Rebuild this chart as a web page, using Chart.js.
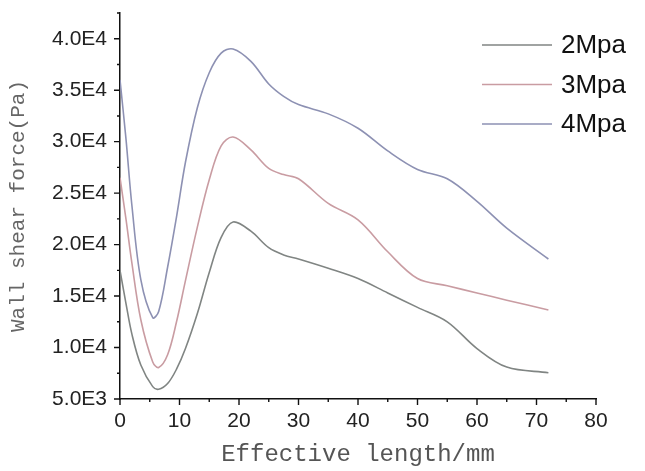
<!DOCTYPE html>
<html>
<head>
<meta charset="utf-8">
<script src="https://cdn.jsdelivr.net/npm/chart.js@4.4.0/dist/chart.umd.min.js"></script>
<style>
  html, body { margin: 0; padding: 0; background: #fff; }
  #wrap { width: 645px; height: 471px; position: relative; }
</style>
</head>
<body>
<div id="wrap"><canvas id="shear-chart"></canvas></div>
<script>
// effective length (mm) and wall shear force (Pa)
var lengths = [0, 1, 2, 3.5, 5.5, 6.5, 8, 9.5, 11, 13, 15, 17, 19, 22, 25, 27.5, 30, 35, 40, 45, 50, 55, 60, 65, 72];
var force2 = [17500, 14300, 11300, 8300, 6200, 5950, 6500, 7900, 9900, 13300, 17300, 20700, 22200, 21300, 19700, 19000, 18600, 17700, 16700, 15300, 13900, 12500, 9900, 8100, 7550];
var force3 = [26500, 22500, 18200, 12700, 8600, 8060, 9300, 12500, 16500, 21700, 26300, 29600, 30450, 29200, 27400, 26800, 26400, 24000, 22400, 19300, 16700, 16000, 15300, 14600, 13650];
var force4 = [36000, 30300, 23800, 16600, 12900, 13500, 17800, 22700, 28000, 33300, 36700, 38600, 39000, 37800, 35600, 34400, 33600, 32700, 31300, 29100, 27300, 26400, 24200, 21600, 18600];
var seriesNames = ["2Mpa", "3Mpa", "4Mpa"];
var seriesColors = ["#808583", "#c99ca2", "#8d91b3"];

function toPoints(ys) {
  return lengths.map(function (x, i) { return { x: x, y: ys[i] }; });
}

// short outward ticks: long ones at labelled values, short ones between
var axisTicks = {
  id: "axisTicks",
  afterDraw: function (chart) {
    var ctx = chart.ctx, sx = chart.scales.x, sy = chart.scales.y;
    ctx.save();
    ctx.strokeStyle = "#111";
    ctx.lineWidth = 1.4;
    ctx.beginPath();
    sx.ticks.forEach(function (t) {
      var px = sx.getPixelForValue(t.value);
      var len = t.value % 10 === 0 ? 6 : 3;
      ctx.moveTo(px, sx.top);
      ctx.lineTo(px, sx.top + len);
    });
    sy.ticks.forEach(function (t) {
      var py = sy.getPixelForValue(t.value);
      var len = t.value % 5000 === 0 ? 6 : 3;
      ctx.moveTo(sy.right, py);
      ctx.lineTo(sy.right - len, py);
    });
    ctx.stroke();
    ctx.restore();
  }
};

// legend in the upper right corner of the plot
var cornerLegend = {
  id: "cornerLegend",
  afterDraw: function (chart) {
    var ctx = chart.ctx;
    ctx.save();
    ctx.font = "26px 'Liberation Sans', Arial, sans-serif";
    ctx.textBaseline = "middle";
    chart.data.datasets.forEach(function (ds, i) {
      var y = 45 + i * 39.5;
      ctx.strokeStyle = ds.borderColor;
      ctx.lineWidth = 1.6;
      ctx.beginPath();
      ctx.moveTo(482, y);
      ctx.lineTo(552, y);
      ctx.stroke();
      ctx.fillStyle = "#111";
      ctx.fillText(ds.label, 561, y + 1);
    });
    ctx.restore();
  }
};

new Chart(document.getElementById("shear-chart"), {
  type: "line",
  data: {
    datasets: [
      { label: seriesNames[0], data: toPoints(force2), borderColor: seriesColors[0] },
      { label: seriesNames[1], data: toPoints(force3), borderColor: seriesColors[1] },
      { label: seriesNames[2], data: toPoints(force4), borderColor: seriesColors[2] },
    ],
  },
  options: {
    responsive: true,
    maintainAspectRatio: false,
    animation: false,
    layout: { padding: { top: 13, right: 49, bottom: 0, left: 0 } },
    elements: {
      line: { borderWidth: 1.6, tension: 0.35, fill: false },
      point: { radius: 0 },
    },
    plugins: { legend: { display: false }, tooltip: { enabled: false } },
    scales: {
      x: {
        type: "linear",
        min: 0,
        max: 80,
        afterFit: function (s) { s.height = 72; },
        border: { display: true, color: "#111", width: 1.5 },
        grid: { drawOnChartArea: false, drawTicks: false },
        ticks: {
          stepSize: 5,
          autoSkip: false,
          maxRotation: 0,
          padding: 10,
          color: "#222",
          font: { family: "'Liberation Sans', Arial, sans-serif", size: 21 },
          callback: function (v) { return v % 10 === 0 ? String(v) : ""; },
        },
        title: {
          display: true,
          text: "Effective length/mm",
          color: "#555",
          padding: { top: 0, bottom: 2 },
          font: { family: "'Liberation Mono', monospace", size: 24 },
        },
      },
      y: {
        min: 5000,
        max: 42500,
        afterFit: function (s) { s.width = 120; s.paddingTop = 0; },
        border: { display: true, color: "#111", width: 1.5 },
        grid: { drawOnChartArea: false, drawTicks: false },
        ticks: {
          stepSize: 2500,
          autoSkip: false,
          padding: 13,
          color: "#222",
          font: { family: "'Liberation Sans', Arial, sans-serif", size: 21 },
          callback: function (v) {
            if (v % 5000 !== 0) return "";
            return v.toExponential(1).toUpperCase().replace("+", "");
          },
        },
        title: {
          display: true,
          text: "Wall shear force(Pa)",
          color: "#666",
          padding: { top: 6, bottom: 0 },
          font: { family: "'Liberation Mono', monospace", size: 21 },
        },
      },
    },
  },
  plugins: [axisTicks, cornerLegend],
});
</script>
</body>
</html>
